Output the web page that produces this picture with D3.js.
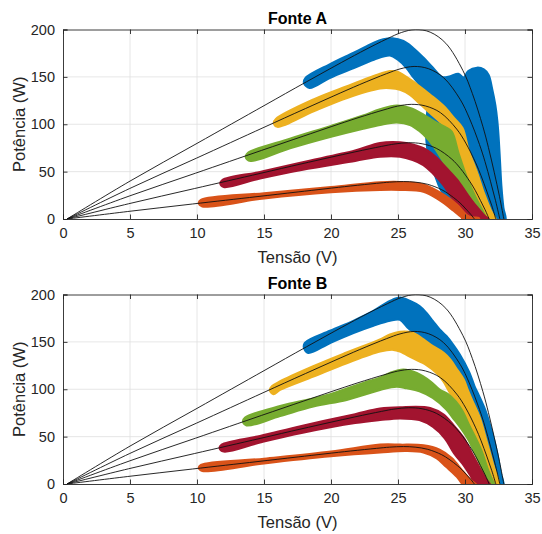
<!DOCTYPE html>
<html>
<head>
<meta charset="utf-8">
<script src="https://cdn.jsdelivr.net/npm/d3@7"></script>
<style>
  body { margin: 0; background: #fff; }
  text { font-family: "Liberation Sans", Arial, Helvetica, sans-serif; fill: #262626; }
</style>
</head>
<body>
<svg id="chart" width="542" height="534"></svg>
<script>
// ---- Eixos ----
const xTicks = [0, 5, 10, 15, 20, 25, 30, 35];
const yTicks = [0, 50, 100, 150, 200];
const xDomain = [0, 35];
const yDomain = [0, 200];
const titles = ["Fonte A", "Fonte B"];
const xLabel = "Tensão (V)";
const yLabel = "Potência (W)";

// ---- Curvas do modelo P-V (V, P) ----
const modelo200 = [[0.3,0],[5,40],[10,79.8],[15,119.6],[18.17,144.8],[22.2,176],[24.22,190.4],[25.25,196.8],[26.3,200],[27.4,197.2],[28.57,185.4],[29.84,156.8],[30.55,132.4],[31.33,97.8],[31.75,75.4],[32.19,48.8],[32.57,24],[32.9,0]];
const modelo160 = [[0.3,0],[4.98,32.2],[9.96,64.2],[14.93,96.3],[18.1,116.6],[22.11,141.7],[24.13,153.3],[25.15,158.4],[26.2,161],[27.26,158.7],[28.4,149.2],[29.64,126.2],[30.32,106.6],[31.08,78.7],[31.49,60.7],[31.91,39.3],[32.28,19.3],[32.6,0]];
const modelo120 = [[0.3,0],[4.94,24.2],[9.88,48.3],[14.82,72.4],[17.97,87.6],[21.94,106.5],[23.95,115.2],[24.96,119.1],[26.0,121],[27.05,119.3],[28.17,112.2],[29.38,94.9],[30.06,80.1],[30.8,59.2],[31.2,45.6],[31.62,29.5],[31.99,14.5],[32.3,0]];
const modelo80 = [[0.3,0],[4.9,16.1],[9.8,32.1],[14.71,48.1],[17.83,58.3],[21.78,70.8],[23.76,76.6],[24.77,79.2],[25.8,80.5],[26.8,79.4],[27.86,74.6],[29.02,63.1],[29.66,53.3],[30.37,39.4],[30.76,30.3],[31.15,19.6],[31.5,9.7],[31.8,0]];
const modelo40 = [[0.3,0],[4.83,7.9],[9.65,15.8],[14.48,23.6],[17.55,28.6],[21.44,34.8],[23.39,37.6],[24.38,38.9],[25.4,39.5],[26.28,38.9],[27.22,36.6],[28.25,31],[28.81,26.1],[29.44,19.3],[29.78,14.9],[30.13,9.6],[30.44,4.7],[30.7,0]];

// ---- Medições, Fonte A: contorno superior e inferior (V, P) ----
const aAzulSup = [[18.0,143.5],[18.1,148.5],[19.9,163],[21.7,175.3],[23.2,185.9],[23.9,189.4],[24.6,190.5],[25.4,187.6],[26.1,180.6],[26.9,170],[27.6,159.5],[28.3,149.6],[28.9,150.5],[29.5,153],[29.9,149],[30.25,156],[30.9,159.5],[31.4,157.7],[31.75,152],[32.0,138],[32.25,120],[32.4,103],[32.5,85],[32.6,60],[32.7,35],[32.85,12],[33.0,-2]];
const aAzulInf = [[18.0,143.5],[18.4,138.5],[19.9,149],[21.7,159.5],[23.2,168.3],[24.4,172.8],[25.0,168.3],[25.65,159.5],[26.1,150.6],[26.6,141.8],[27.0,128],[27.2,117],[27.1,100],[27.15,80],[27.4,59],[27.8,45],[28.1,34],[28.5,23.6],[29.0,16],[29.8,10],[31.0,4],[32.3,-2]];
const aAmareloSup = [[15.75,101.5],[15.9,105.5],[18.7,126],[21.2,140],[23.66,153],[24.4,155.9],[24.9,155.5],[25.65,149.5],[26.4,142],[27.4,131],[28.4,119],[29.2,106],[29.8,96],[30.25,73],[30.9,48.4],[31.4,27.2],[31.9,9.5],[32.3,-2]];
const aAmareloInf = [[15.75,101.5],[16.0,97.5],[18.7,114],[21.2,128],[23.66,138],[24.4,138.3],[25.15,136.5],[25.9,131.2],[26.6,122.4],[27.4,112],[28.2,102],[28.9,92],[29.5,69],[30.1,44],[30.75,23],[31.4,5],[31.6,-2]];
const aVerdeSup = [[13.65,65.5],[13.8,69.5],[16.94,84.5],[20,98],[22.4,109],[23.66,115.5],[24.9,119.5],[25.9,117],[26.9,110],[27.8,102],[28.5,97],[29.0,92],[29.5,69.5],[30.1,44.8],[30.75,23.6],[31.4,6],[31.65,-2]];
const aVerdeInf = [[13.65,65.5],[14.0,61.5],[16.94,74.8],[20,87],[22.4,95.5],[23.66,99.5],[24.9,102],[25.9,99.5],[26.6,93],[27.2,85],[27.6,78],[28.2,65],[28.8,50],[29.4,38],[30.0,26],[30.6,14],[31.1,4],[31.35,-2]];
const aVermelhoSup = [[11.75,37.5],[11.9,41],[14.7,49.5],[17.8,59.5],[21.8,72],[23.66,80],[25.15,80.7],[26.1,78.3],[27.1,73],[27.9,64.2],[28.6,53.7],[29.4,41.3],[30.1,27.2],[30.75,14.8],[31.4,4.2],[31.8,-2]];
const aVermelhoInf = [[11.75,37.5],[12.0,34],[14.7,43],[17.8,52],[21.8,61.5],[23.66,66],[25.15,66],[26.1,62.4],[26.9,57.1],[27.6,48.4],[28.4,36],[29.0,23.6],[29.6,13],[30.25,4.2],[30.6,-2]];
const aLaranjaSup = [[10.15,16.7],[10.3,20],[15,27],[20,33.5],[23.66,38.5],[25.15,38.8],[26.9,36.2],[28.4,25.5],[29.4,14.9],[30.1,4.3],[30.5,1.5],[31.0,1],[31.05,-2]];
const aLaranjaInf = [[10.15,16.7],[10.4,13.5],[15,22],[20,28.5],[23.66,31],[25.15,31],[26.9,29],[28.1,20.1],[29.1,9.5],[29.75,1.8],[29.9,-2]];

// ---- Medições, Fonte B ----
const bAzulSup = [[18.0,143.5],[18.06,148.9],[19.93,161.5],[21.67,172],[23.16,182.4],[24.4,193],[25.15,196.5],[25.9,193],[26.6,187.6],[27.1,180.6],[27.6,171.8],[28.1,163],[28.6,156],[29.1,147],[29.6,136.5],[30.3,118],[30.7,103],[31.0,94],[31.5,78],[32.0,55],[32.4,32],[32.65,12],[32.85,-2]];
const bAzulInf = [[18.0,143.5],[18.3,138.5],[19.93,149],[21.67,159.5],[23.16,167.2],[24.4,172.5],[25.15,173.5],[25.65,166.5],[26.2,159],[26.9,152],[27.6,140],[28.4,128],[29.2,112],[29.9,92],[30.6,70],[31.2,45],[31.8,20],[32.3,-2]];
const bAmareloSup = [[15.45,99],[15.6,103],[16.19,108],[18.68,124],[21.17,138.5],[23.66,152.4],[24.4,157.7],[25.15,160.5],[26.1,159.5],[26.9,152.4],[27.6,145.4],[28.4,138.3],[28.9,131.2],[29.4,120.6],[29.9,110],[30.2,99],[30.5,89],[31.1,69.5],[31.6,45],[32.1,20],[32.5,-2]];
const bAmareloInf = [[15.45,99],[15.7,95],[16.19,99.5],[18.68,113.6],[21.17,127.7],[23.66,140],[24.65,141.8],[25.15,140],[26.1,133],[27.1,126],[27.9,117],[28.4,108.3],[28.9,96],[29.5,85],[30.1,65],[30.7,42],[31.2,22],[31.7,-2]];
const bVerdeSup = [[13.45,66],[13.6,70],[16.2,82],[18.68,90],[19.93,94.5],[22.41,106.5],[23.66,112],[24.4,117],[25.4,120.6],[26.4,117],[27.4,108.3],[28.1,99.5],[28.7,95],[29.3,87],[29.8,77],[30.3,62],[30.9,45],[31.3,32],[31.7,15],[32.0,5],[32.2,-2]];
const bVerdeInf = [[13.45,66],[13.7,62],[16.2,72],[18.68,82],[21.17,89],[23.66,99.5],[24.9,103],[25.65,101.2],[26.6,98],[27.6,91],[28.6,79],[29.1,70],[29.7,59],[30.25,47],[30.7,34],[31.1,22],[31.45,11],[31.8,-2]];
const bVermelhoSup = [[11.7,38],[11.85,41.5],[14.7,50.5],[17.8,61],[21.8,73.5],[23.66,79.4],[25.15,80.8],[27.4,80.1],[28.4,73],[29.1,62.4],[29.9,48.4],[30.5,32.4],[31.1,16.6],[31.6,4.2],[31.9,-2]];
const bVermelhoInf = [[11.7,38],[12.0,34.5],[14.7,44],[17.8,54],[21.8,64.5],[23.66,67.7],[25.15,69.5],[26.6,67.7],[27.6,60.6],[28.5,48.4],[29.2,32.4],[29.9,20.1],[30.4,9.5],[30.9,-2]];
const bLaranjaSup = [[10.15,17],[10.3,20],[15,26.5],[20,34],[23.66,41.3],[25.15,41.3],[26.9,40.6],[28.1,36],[29.0,27.2],[29.75,14.8],[30.4,4.2],[30.9,-2]];
const bLaranjaInf = [[10.15,17],[10.4,14],[15,22],[20,29.5],[23.66,33.5],[25.6,35],[26.9,33.5],[27.9,27.2],[28.6,18.3],[29.4,7.8],[30.0,-2]];

const cores = { azul: "#0072BD", amarelo: "#EDB120", verde: "#77AC30", vermelho: "#A2142F", laranja: "#D95319" };

const modelos = [modelo200, modelo160, modelo120, modelo80, modelo40];
const paineis = [
  { titulo: titles[0], top: 29.5, faixas: [
      [aAzulSup, aAzulInf, cores.azul], [aAmareloSup, aAmareloInf, cores.amarelo],
      [aVerdeSup, aVerdeInf, cores.verde], [aVermelhoSup, aVermelhoInf, cores.vermelho],
      [aLaranjaSup, aLaranjaInf, cores.laranja]] },
  { titulo: titles[1], top: 294.5, faixas: [
      [bAzulSup, bAzulInf, cores.azul], [bAmareloSup, bAmareloInf, cores.amarelo],
      [bVerdeSup, bVerdeInf, cores.verde], [bVermelhoSup, bVermelhoInf, cores.vermelho],
      [bLaranjaSup, bLaranjaInf, cores.laranja]] }
];

const svg = d3.select("#chart");
const left = 63, plotW = 469, plotH = 189.5;

paineis.forEach((p, i) => {
  const g = svg.append("g").attr("transform", `translate(${left},${p.top})`);
  const x = d3.scaleLinear().domain(xDomain).range([0, plotW]);
  const y = d3.scaleLinear().domain(yDomain).range([plotH, 0]);

  const clipId = "clip" + i;
  g.append("clipPath").attr("id", clipId)
    .append("rect").attr("width", plotW).attr("height", plotH);

  // grade
  g.append("g").selectAll("line").data(xTicks.slice(1, -1)).join("line")
    .attr("x1", d => x(d)).attr("x2", d => x(d)).attr("y1", 0).attr("y2", plotH)
    .attr("stroke", "#dfdfdf").attr("stroke-width", 0.8);
  g.append("g").selectAll("line").data(yTicks.slice(1, -1)).join("line")
    .attr("y1", d => y(d)).attr("y2", d => y(d)).attr("x1", 0).attr("x2", plotW)
    .attr("stroke", "#dfdfdf").attr("stroke-width", 0.8);

  const dados = g.append("g").attr("clip-path", `url(#${clipId})`);

  // faixas de medição: contorno superior seguido do inferior invertido
  const contorno = d3.line().x(d => x(d[0])).y(d => y(d[1]))
    .curve(d3.curveCatmullRomClosed.alpha(0.5));
  p.faixas.forEach(([sup, inf, cor]) => {
    dados.append("path")
      .attr("d", contorno(sup.concat(inf.slice(1).reverse())))
      .attr("fill", cor).attr("stroke", cor)
      .attr("stroke-width", 2.5).attr("stroke-linejoin", "round");
  });

  // curvas do modelo
  const linha = d3.line().x(d => x(d[0])).y(d => y(d[1]))
    .curve(d3.curveCatmullRom.alpha(0.5));
  modelos.forEach(m => {
    dados.append("path").attr("d", linha(m))
      .attr("fill", "none").attr("stroke", "#111").attr("stroke-width", 0.9);
  });

  // eixos (caixa + marcas internas)
  const axB = g.append("g").attr("transform", `translate(0,${plotH})`)
    .call(d3.axisBottom(x).tickValues(xTicks).tickSize(-4.5).tickPadding(9).tickFormat(d3.format("d")));
  const axT = g.append("g")
    .call(d3.axisTop(x).tickValues(xTicks).tickSize(-4.5).tickFormat(""));
  const axL = g.append("g")
    .call(d3.axisLeft(y).tickValues(yTicks).tickSize(-4.5).tickPadding(8).tickFormat(d3.format("d")));
  const axR = g.append("g").attr("transform", `translate(${plotW},0)`)
    .call(d3.axisRight(y).tickValues(yTicks).tickSize(-4.5).tickFormat(""));
  [axB, axT, axL, axR].forEach(a => {
    a.select(".domain").attr("stroke", "#262626").attr("stroke-width", 0.9);
    a.selectAll(".tick line").attr("stroke", "#262626").attr("stroke-width", 0.9);
    a.selectAll(".tick text").attr("fill", "#262626")
      .style("font-size", "14.5px").style("font-family", '"Liberation Sans", Arial, sans-serif');
  });

  // título e rótulos
  g.append("text").attr("x", plotW / 2).attr("y", -6)
    .attr("text-anchor", "middle").style("font-size", "16px").style("font-weight", "bold")
    .style("fill", "#000").text(p.titulo);
  g.append("text").attr("x", plotW / 2).attr("y", plotH + 44)
    .attr("text-anchor", "middle").style("font-size", "16.5px").text(xLabel);
  g.append("text").attr("transform", `translate(${19 - left},${plotH / 2}) rotate(-90)`)
    .attr("dy", "0.35em").attr("text-anchor", "middle").style("font-size", "16.5px").text(yLabel);
});
</script>
</body>
</html>
